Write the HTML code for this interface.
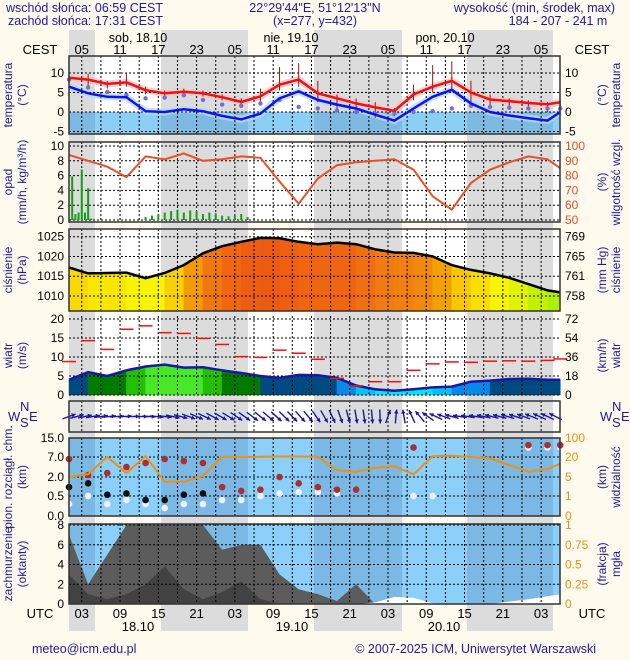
<!DOCTYPE html>
<html><head><meta charset="utf-8">
<style>
html,body{margin:0;padding:0;background:#fffaee;}
svg{display:block;font-family:"Liberation Sans",sans-serif;}
</style></head>
<body>
<svg id="chart" width="630" height="660" viewBox="0 0 630 660" xmlns="http://www.w3.org/2000/svg"></svg>
<script>
// ---------- data (3-hourly from 01 UTC 18.10; last point +77h) ----------
const times = [0,3,6,9,12,15,18,21,24,27,30,33,36,39,42,45,48,51,54,57,60,63,66,69,72,75,77];
const tempMax = [8.8,8.3,7.2,7.6,5.6,4.8,5.2,4.8,3.8,2.6,4.0,7.0,8.3,4.8,3.5,2.2,1.2,0.3,4.5,6.5,8.0,5.0,3.2,2.8,2.3,2.0,2.5];
const tempMin = [6.5,4.8,3.9,3.8,0.2,0.0,0.7,0.2,-1.0,-1.9,-0.4,3.5,5.3,3.1,1.9,0.9,-0.7,-2.2,0.9,3.9,5.7,2.2,0.0,-0.9,-1.6,-2.2,0.0];
const dewPoint = [8.3,6.3,5.1,4.4,3.5,3.7,4.3,3.1,1.9,1.6,2.2,3.1,1.3,0.9,0.4,0.0,-0.4,-0.2,0.0,0.2,0.9,1.6,1.3,1.1,0.9,0.9,0.9];
const tempHigh = [9.5,9.8,8.0,10.0,6.5,5.5,6.0,5.5,4.5,3.5,6.0,11.5,12.5,8.0,4.5,3.5,2.5,1.0,7.0,12.0,13.0,8.0,4.5,3.5,3.0,2.5,3.0];
const tempLow = [8.0,6.5,6.0,6.5,4.5,4.0,4.5,4.0,3.0,2.0,2.5,5.5,6.5,2.5,0.5,-0.5,-1.5,-1.0,3.0,5.0,6.0,2.5,1.5,1.0,0.5,0.0,1.0];
const humidity = [94,90,86,79,93,91,95,90,91,93,92,76,61,78,87,89,90,91,84,66,57,75,84,89,93,91,85];
const precipTimes = [0.5,1,1.5,2,2.5,3,3.5,12,13,14,15,16,17,18,19,20,21,22,23,24,25,26,27,28];
const precipVals = [5.9,0.8,1.0,6.8,1.0,4.3,0.2,0.4,0.6,0.8,1.0,1.2,1.4,1.0,1.3,1.2,0.8,1.0,0.9,0.6,0.5,0.6,0.8,0.4];
const pressure = [1017.2,1015.7,1015.8,1015.9,1014.5,1015.8,1017.8,1020.8,1022.6,1023.7,1024.7,1024.6,1023.7,1023.1,1023.5,1023.1,1021.8,1021.0,1020.9,1020.0,1017.8,1016.6,1015.7,1014.6,1013.0,1011.4,1010.9];
const windSpeed = [4.0,6.0,5.0,6.5,7.5,8.0,7.2,7.3,6.5,5.8,5.0,4.5,5.3,5.2,4.5,2.5,1.5,1.1,1.5,2.0,2.2,3.5,3.8,4.2,4.3,4.0,4.0];
const windGust = [8.8,14.3,12,17.3,18.2,16.4,16.2,14.9,13.3,10.1,9.9,11.8,11,9.4,4.4,2.4,3.5,3.5,6.5,8.2,8.7,8.6,8.9,9,8.9,9.1,9.5];
const windDirDense = [250,255,258,260,262,264,265,266,268,270,272,275,278,282,285,290,293,295,298,300,302,304,305,307,308,310,312,314,316,318,320,325,330,335,340,345,350,352,355,358,200,185,170,155,140,125,115,110,105,100,100,100,102,104,105,107,108,110,112,114,115,116];
const visibility = [5,7,21,8,23,4,4,6,21,20,21,22,22,21,10,9,12,13,7,24,25,20,19,14,9,11,15];
const cloudHigh = [6.5,2.5,3,4.5,5.5,6.5,6,5.5,1.2,0.9,1,2,1.5,1.2,1,1,null,null,11,null,null,null,null,null,12,12,12];
const cloudMid = [1.2,1.5,0.6,0.7,0.4,0.4,0.6,0.7,null,null,null,null,null,null,null,null,null,null,null,null,null,null,null,null,null,null,null];
const cloudLow = [0.3,0.5,0.3,0.4,0.3,0.2,0.3,0.3,0.4,0.4,0.5,0.7,0.8,0.8,0.7,null,null,null,0.5,0.5,null,null,null,null,11,11,11];
const cloudTotal = [7,2,5,8,8,8,8,8,5.5,6,6,3,1.5,1,0.3,2,0,0,0,0,0,0,0,0,0,0,0];
const cloudMidCover = [3,1,0.5,1,2,3.8,1.5,0.5,1.2,2.3,0.5,0,0,0,0,0,0,0,0,0,0,0,0,0,0,0,0];
const fog = [0,0,0,0,0,0,0,0,0,0,0,0,0,0,0,0,0.02,0.09,0.08,0.01,0,0,0,0.03,0.06,0.1,0.12];
const hourLabels = ["05","11","17","23","05","11","17","23","05","11","17","23","05"];
const utcLabels = ["03","09","15","21","03","09","15","21","03","09","15","21","03"];
const tempTicks = [10,5,0,-5];
const precipTicks = [0,2,4,6,8,10];
const humTicks = [50,60,70,80,90,100];
const presTicks = [1010,1015,1020,1025];
const presHgTicks = ["758","761","765","769"];
const windTicks = [0,5,10,15,20];
const windKmhTicks = ["0","18","36","54","72"];
const baseTicks = ["0.0","0.5","2.0","7.0","15.0"];
const visTicks = ["0","1","5","20","100"];
const octTicks = [0,2,4,6,8];
const fogTicks = ["0","0.25","0.5","0.75","1"];

// ---------- geometry ----------
const L = 69, R = 560, PXH = 6.38;
const X = t => L + t * PXH;
const NS = "http://www.w3.org/2000/svg";
const svg = document.getElementById('chart');
function mk(tag, attrs, parent){ const e=document.createElementNS(NS,tag); for(const k in attrs) e.setAttribute(k,attrs[k]); (parent||svg).appendChild(e); return e; }
function txt(s, x, y, attrs){ const e=mk('text', Object.assign({x:x,y:y,'font-size':12,fill:'#000'},attrs||{})); e.textContent=s; return e; }
const nights = [[L,95],[161,248],[314,402],[467,553]];
const NAVY = '#1c1c9c';

nights.forEach(n=>{ const r=mk('rect',{x:n[0],y:30,width:n[1]-n[0],height:601,fill:'#dcdcdc'});

 });

const panels = {
 temp:{top:56,bot:134}, prec:{top:142,bot:222}, pres:{top:229,bot:311}, wind:{top:316,bot:395},
 dir:{top:401,bot:432}, base:{top:438,bot:516}, cov:{top:524,bot:604}
};
function panelBg(p, day, night){
  const r=mk('rect',{x:L,y:p.top,width:R-L,height:p.bot-p.top,fill:day});
  
  
  nights.forEach(n=>{ const q=mk('rect',{x:n[0],y:p.top,width:n[1]-n[0],height:p.bot-p.top,fill:night});
  
   });
}
function vgrid(p){
  for(let t=2;t<77;t+=3){ const l=mk('line',{x1:X(t),x2:X(t),y1:p.top,y2:p.bot,stroke:'#000','stroke-dasharray':'2,2','stroke-width':1});
  
   }
}
function hgrid(p, ys){ ys.forEach(y=>{ const l=mk('line',{x1:L,x2:R,y1:y,y2:y,stroke:'#000','stroke-dasharray':'2,2','stroke-width':1});
  
   }); }
function border(p){ const r=mk('rect',{x:L,y:p.top,width:R-L,height:p.bot-p.top,fill:'none',stroke:'#333','stroke-width':1.5});
  
   }
function vtitle(lines, x, cy, color){ lines.forEach((s,i)=>{ const e=txt(s, 0, 0, {fill:color||NAVY,'text-anchor':'middle',transform:`translate(${x+i*14},${cy}) rotate(-90)`,'font-size':12});
  
   }); }
function linePath(xs, ys){ return xs.map((x,i)=>(i?'L':'M')+x.toFixed(1)+','+ys[i].toFixed(1)).join(''); }

// ---------- header ----------
[["wschód słońca: 06:59 CEST",6,12,'start'],["zachód słońca: 17:31 CEST",8,25,'start'],
 ["22°29'44\"E, 51°12'13\"N",315,12,'middle'],["(x=277,  y=432)",315,25,'middle'],
 ["wysokość (min, środek, max)",615,12,'end'],["184 - 207 - 241 m",558,25,'middle']].forEach(a=>{
  const e=txt(a[0],a[1],a[2],{fill:NAVY,'text-anchor':a[3],'font-size':12.5});
  
   });
[["sob, 18.10",138],["nie, 19.10",291],["pon, 20.10",445]].forEach(a=>{ const e=txt(a[0],a[1],42,{'text-anchor':'middle','font-size':12.5});
  
   });
{ let e=txt("CEST",40,54,{'text-anchor':'middle','font-size':13});  
  e=txt("CEST",592,54,{'text-anchor':'middle','font-size':13});   }
hourLabels.forEach((s,i)=>{ const e=txt(s,X(2+6*i),54,{'text-anchor':'middle','font-size':13});
  
   });

// ---------- temperature ----------
{ const p=panels.temp; const yT=v=>112-3.9*v;
  panelBg(p,'#ffffff','#dcdcdc');
  const z=yT(0);
  const b=mk('rect',{x:L,y:z,width:R-L,height:p.bot-z,fill:'#8ccff5'});  
  nights.forEach(n=>{ const q=mk('rect',{x:n[0],y:z,width:n[1]-n[0],height:p.bot-z,fill:'#7db9e0'});   });
  const xs=times.map(X);
  let e=mk('path',{d:linePath(xs,tempMax.map(yT)),fill:'none',stroke:'#f8c8c8','stroke-width':7,opacity:0.8});  
  e=mk('path',{d:linePath(xs,tempMin.map(yT)),fill:'none',stroke:'#b8dcf8','stroke-width':7,opacity:0.8});  
  vgrid(p); hgrid(p,tempTicks.map(yT));
  times.forEach((t,i)=>{ const w=mk('line',{x1:X(t),x2:X(t),y1:yT(tempHigh[i]),y2:yT(tempLow[i]),stroke:'#a01010','stroke-width':1});
      });
  times.forEach((t,i)=>{ const c=mk('circle',{cx:X(t),cy:yT(dewPoint[i]),r:2.2,fill:'#7070d8'});   });
  e=mk('path',{d:linePath(xs,tempMin.map(yT)),fill:'none',stroke:'#1010f0','stroke-width':2.5});  
  e=mk('path',{d:linePath(xs,tempMax.map(yT)),fill:'none',stroke:'#f01010','stroke-width':2.5});  
  border(p);
  tempTicks.forEach(v=>{ let a=txt(String(v),64,yT(v)+4,{'text-anchor':'end'});  
    a=txt(String(v),565,yT(v)+4,{});   });
  vtitle(["temperatura","(°C)"],12,(p.top+p.bot)/2);
  vtitle(["(°C)","temperatura"],606,(p.top+p.bot)/2);
}

// ---------- precipitation / humidity ----------
{ const p=panels.prec; const yP=v=>220-7.4*v; const yH=v=>220-(v-50)*1.48;
  panelBg(p,'#ffffff','#dcdcdc'); vgrid(p); hgrid(p,precipTicks.map(yP));
  precipTimes.forEach((t,i)=>{ const h=220-yP(precipVals[i]); const r=mk('rect',{x:X(t)-1,y:yP(precipVals[i]),width:2,height:h,fill:'#10a010'});
      });
  const xs=times.map(X);
  const e=mk('path',{d:linePath(xs,humidity.map(yH)),fill:'none',stroke:'#e8502a','stroke-width':2});  
  border(p);
  precipTicks.forEach(v=>{ const a=txt(String(v),64,yP(v)+4,{'text-anchor':'end'});   });
  humTicks.forEach(v=>{ const a=txt(String(v),565,yH(v)+4,{fill:'#e8502a'});   });
  vtitle(["opad","(mm/h, kg/m³/h)"],12,(p.top+p.bot)/2);
  vtitle(["(%)","wilgotność wzgl."],606,(p.top+p.bot)/2);
}

// ---------- pressure ----------
{ const p=panels.pres; const yPr=v=>236.7-(v-1025)*3.95;
  panelBg(p,'#ffffff','#dcdcdc');
  const stops=[[1010,[150,240,0]],[1013,[210,240,0]],[1015,[248,248,0]],[1017,[248,205,0]],[1019,[242,160,0]],[1021,[240,128,16]],[1023,[240,104,16]],[1025,[236,88,16]]];
  function col(v){ for(let i=1;i<stops.length;i++){ if(v<=stops[i][0]){ const a=stops[i-1],b=stops[i]; const f=Math.max(0,(v-a[0])/(b[0]-a[0])); return 'rgb('+a[1].map((c,k)=>Math.round(c+(b[1][k]-c)*f)).join(',')+')'; } } return 'rgb(236,88,16)'; }
  for(let i=0;i<times.length-1;i++){ const x1=X(times[i]),x2=X(times[i+1]); const y1=yPr(pressure[i]),y2=yPr(pressure[i+1]);
    const poly=mk('polygon',{points:`${x1},${y1} ${x2},${y2} ${x2},${p.bot} ${x1},${p.bot}`,fill:col((pressure[i]+pressure[i+1])/2),stroke:col((pressure[i]+pressure[i+1])/2),'stroke-width':0.5});
      }
  vgrid(p); hgrid(p,presTicks.map(yPr));
  const e=mk('path',{d:linePath(times.map(X),pressure.map(yPr)),fill:'none',stroke:'#000','stroke-width':2.5});  
  border(p);
  presTicks.forEach((v,i)=>{ let a=txt(String(v),64,yPr(v)+4,{'text-anchor':'end'});  
    a=txt(presHgTicks[i],565,yPr(v)+4,{});   });
  vtitle(["ciśnienie","(hPa)"],12,(p.top+p.bot)/2);
  vtitle(["(mm Hg)","ciśnienie"],606,(p.top+p.bot)/2);
}

// ---------- wind ----------
{ const p=panels.wind; const yW=v=>395-3.8*v;
  panelBg(p,'#ffffff','#dcdcdc');
  function wc(v){ if(v<1.8) return '#00e4ff'; if(v<2.6) return '#00c4f4'; if(v<3.9) return '#0a88e8'; if(v<5.3) return '#004a80'; if(v<6.2) return '#007a00'; if(v<7.1) return '#22c000'; return '#48e828'; }
  for(let i=0;i<times.length-1;i++){ const x1=X(times[i]),x2=X(times[i+1]); const y1=yW(windSpeed[i]),y2=yW(windSpeed[i+1]); const c=wc((windSpeed[i]+windSpeed[i+1])/2);
    const poly=mk('polygon',{points:`${x1},${y1} ${x2},${y2} ${x2},${p.bot} ${x1},${p.bot}`,fill:c,stroke:c,'stroke-width':0.5});
      }
  vgrid(p); hgrid(p,windTicks.map(yW));
  const e=mk('path',{d:linePath(times.map(X),windSpeed.map(yW)),fill:'none',stroke:'#1818a0','stroke-width':2.5});  
  times.forEach((t,i)=>{ const l=mk('line',{x1:X(t)-7,x2:X(t)+7,y1:yW(windGust[i]),y2:yW(windGust[i]),stroke:'#f01010','stroke-width':1.5});
      });
  windTicks.forEach((v,i)=>{ let a=txt(String(v),64,yW(v)+4,{'text-anchor':'end'});  
    a=txt(windKmhTicks[i],565,yW(v)+4,{});   });
  vtitle(["wiatr","(m/s)"],12,(p.top+p.bot)/2);
  vtitle(["(km/h)","wiatr"],606,(p.top+p.bot)/2);
}

// ---------- wind direction ----------
{ const p=panels.dir; const cy=(p.top+p.bot)/2;
  panelBg(p,'#ffffff','#dcdcdc'); vgrid(p);
  windDirDense.forEach((dv,i)=>{ const t=i*1.25; const d=dv*Math.PI/180; const dx=-Math.sin(d)*7, dy=Math.cos(d)*7; const cx=X(t);
    const l=mk('line',{x1:cx-dx,y1:cy-dy,x2:cx+dx,y2:cy+dy,stroke:'#1818a0','stroke-width':1.4});
     
    const a=Math.atan2(dy,dx); const hx=cx+dx, hy=cy+dy;
    const h=mk('polygon',{points:`${hx},${hy} ${hx-4.5*Math.cos(a-0.5)},${hy-4.5*Math.sin(a-0.5)} ${hx-4.5*Math.cos(a+0.5)},${hy-4.5*Math.sin(a+0.5)}`,fill:'#1818a0'});
      });
  border(p);
  [[8,421,'W'],[20,427,'S'],[20,411,'N'],[29,421,'E'],[600,421,'W'],[612,427,'S'],[612,411,'N'],[621,421,'E']].forEach(a=>{
    const e=txt(a[2],a[0],a[1],{fill:NAVY,'font-size':13});   });
}

// ---------- cloud base / visibility ----------
const baseKm=[0,0.5,2,7,15], visKm=[0,1,5,20,100], logY=[516,496,477,457,438];
function pw(v,ks){ for(let i=1;i<ks.length;i++){ if(v<=ks[i]) return logY[i-1]+(logY[i]-logY[i-1])*(v-ks[i-1])/(ks[i]-ks[i-1]); } return logY[4]; }
{ const p=panels.base;
  panelBg(p,'#8ccff8','#7cb8e4'); vgrid(p); hgrid(p,logY);
  function dots(arr,fill,name){ times.forEach((t,i)=>{ if(arr[i]===null) return; const c=mk('circle',{cx:X(t),cy:pw(arr[i],baseKm),r:3.3,fill:fill});
      }); }
  dots(cloudLow,'#f0f0f0','cloud-base-low-dot');
  dots(cloudMid,'#101010','cloud-base-mid-dot');
  dots(cloudHigh,'#a83030','cloud-base-high-dot');
  const e=mk('path',{d:linePath(times.map(X),visibility.map(v=>pw(v,visKm))),fill:'none',stroke:'#f09010','stroke-width':2});  
  border(p);
  baseTicks.forEach((s,i)=>{ let a=txt(s,64,logY[i]+4,{'text-anchor':'end'});  
    a=txt(visTicks[i],565,logY[i]+4,{fill:'#f09010'});   });
  vtitle(["pion. rozciągł. chm.","(km)"],12,(p.top+p.bot)/2);
  vtitle(["(km)","widzialność"],606,(p.top+p.bot)/2);
}

// ---------- cloud cover / fog ----------
{ const p=panels.cov; const yO=v=>604-9.87*v; const yF=v=>604-79*v;
  panelBg(p,'#8ccff8','#7cb8e4');
  const xs=times.map(X);
  function area(arr,fill,name){ const d=linePath(xs,arr.map(yO))+`L${xs[xs.length-1]},604L${xs[0]},604Z`; const e=mk('path',{d:d,fill:fill});   }
  area(cloudTotal,'#5c5c5c','cloud-total-area');
  area(cloudMidCover,'#424242','cloud-mid-area');
  const f=mk('path',{d:linePath(xs,fog.map(yF))+`L${xs[xs.length-1]},604L${xs[0]},604Z`,fill:'#ffffff'});  
  vgrid(p); hgrid(p,octTicks.map(yO));
  border(p);
  octTicks.forEach((v,i)=>{ let a=txt(String(v),64,yO(v)+4,{'text-anchor':'end'});  
    a=txt(fogTicks[i],565,yO(v)+4,{fill:'#f09010'});   });
  vtitle(["zachmurzenie","(oktanty)"],12,(p.top+p.bot)/2);
  vtitle(["(frakcja)","mgła"],606,(p.top+p.bot)/2);
}

// ---------- bottom axis & footer ----------
{ let e=txt("UTC",40,618,{'text-anchor':'middle','font-size':13});  
  e=txt("UTC",592,618,{'text-anchor':'middle','font-size':13});   }
utcLabels.forEach((s,i)=>{ const e=txt(s,X(2+6*i),618,{'text-anchor':'middle','font-size':13});
  
   });
[["18.10",138],["19.10",292],["20.10",444]].forEach(a=>{ const e=txt(a[0],a[1],631,{'text-anchor':'middle','font-size':13});
  
   });
{ let e=txt("meteo@icm.edu.pl",32,653,{fill:NAVY,'font-size':12.5});  
  e=txt("© 2007-2025 ICM, Uniwersytet Warszawski",596,653,{fill:NAVY,'text-anchor':'end','font-size':12.5});   }
</script>
</body></html>
